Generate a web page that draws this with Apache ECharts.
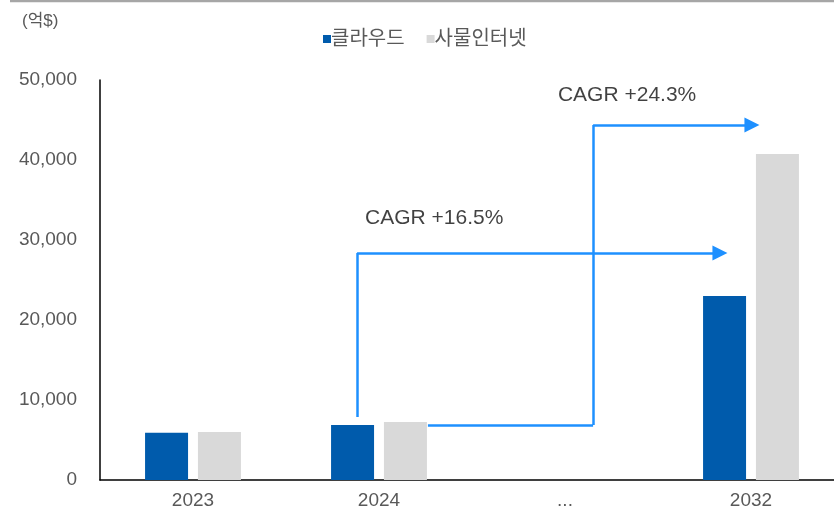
<!DOCTYPE html>
<html>
<head>
<meta charset="utf-8">
<script src="https://cdn.jsdelivr.net/npm/echarts@6/dist/echarts.min.js"></script>
<style>
  html, body { margin: 0; padding: 0; background: #fff; }
  #chart { width: 834px; height: 528px; }
</style>
</head>
<body>
<div id="chart"></div>
<script>
// 카테고리 / 값
const years = ['2023', '2024', '...', '2032'];
const cloud = [5900, 6875, null, 23000];
const iot = [6000, 7250, null, 40750];
const yTicks = [0, 10000, 20000, 30000, 40000, 50000];

// CAGR 화살표 (x: 카테고리 축 0~4 기준 값, y: 억$)
const arrow1 = [[1.382, 7875], [1.382, 28375], [3.333, 28375]];
const arrow2 = [[1.763, 6875], [2.651, 6875], [2.651, 44375], [3.505, 44375]];
const cagrLabels = [
  { text: 'CAGR +16.5%', at: [1.425, 32750] },
  { text: 'CAGR +24.3%', at: [2.462, 48125] }
];

const FONT = 'Liberation Sans, "Noto Sans CJK KR", sans-serif';
const ARROW_COLOR = '#1E90FF';

// 화살표를 선분으로 나눔: 마지막 선분만 화살촉
function segments(pts) {
  const plain = [], head = [];
  for (let i = 0; i < pts.length - 1; i++) {
    const seg = { coords: [pts[i], pts[i + 1]] };
    if (i === pts.length - 2) head.push(seg); else plain.push(seg);
  }
  return { plain, head };
}
const s1 = segments(arrow1), s2 = segments(arrow2);

const chart = echarts.init(document.getElementById('chart'));
chart.setOption({
  animation: false,
  textStyle: { fontFamily: FONT },
  title: {
    text: '(억$)',
    left: 17, top: 8,
    textStyle: { fontSize: 17, fontWeight: 'normal', color: '#595959', fontFamily: FONT }
  },
  legend: {
    data: ['클라우드', '사물인터넷'],
    left: 318, top: 24,
    icon: 'rect',
    itemWidth: 8, itemHeight: 8,
    itemGap: 22,
    textStyle: { fontSize: 20, color: '#595959', padding: [0, 0, 0, -5] }
  },
  grid: { left: 100, top: 80, width: 744, height: 400, containLabel: false, outerBoundsMode: 'none' },
  xAxis: [
    {
      type: 'category',
      data: years,
      axisLine: { lineStyle: { color: '#000', width: 1.5 } },
      axisTick: { show: false },
      axisLabel: { color: '#595959', fontSize: 19, margin: 11 }
    },
    { type: 'value', min: 0, max: 4, show: false }
  ],
  yAxis: {
    type: 'value',
    min: yTicks[0], max: yTicks[yTicks.length - 1], interval: 10000,
    axisLine: { show: true, lineStyle: { color: '#000', width: 1.5 } },
    axisTick: { show: false },
    splitLine: { show: false },
    axisLabel: {
      color: '#595959', fontSize: 19, margin: 23,
      formatter: v => v.toLocaleString('en-US')
    }
  },
  series: [
    {
      name: '클라우드', type: 'bar', data: cloud,
      barWidth: 43, barGap: '23%',
      itemStyle: { color: '#005BAC' }
    },
    {
      name: '사물인터넷', type: 'bar', data: iot,
      barWidth: 43,
      itemStyle: { color: '#D9D9D9' }
    },
    {
      type: 'lines', coordinateSystem: 'cartesian2d', xAxisIndex: 1, yAxisIndex: 0,
      silent: true, symbol: 'none',
      lineStyle: { color: ARROW_COLOR, width: 2.5, opacity: 1, curveness: 0 },
      data: s1.plain.concat(s2.plain)
    },
    {
      type: 'lines', coordinateSystem: 'cartesian2d', xAxisIndex: 1, yAxisIndex: 0,
      silent: true, symbol: ['none', 'triangle'], symbolSize: [16, 15],
      lineStyle: { color: ARROW_COLOR, width: 2.5, opacity: 1, curveness: 0 },
      data: s1.head.concat(s2.head)
    },
    {
      type: 'scatter', xAxisIndex: 1, yAxisIndex: 0, silent: true,
      symbolSize: 0,
      data: cagrLabels.map(d => ({ value: d.at, name: d.text })),
      label: {
        show: true, position: 'right', distance: 0,
        formatter: p => p.name,
        fontSize: 21, color: '#111', fontFamily: FONT
      }
    }
  ],
  graphic: [
    {
      type: 'line',
      shape: { x1: 10, y1: 1, x2: 834, y2: 1 },
      style: { stroke: '#A6A6A6', lineWidth: 2.5 }
    }
  ]
});
</script>
</body>
</html>
